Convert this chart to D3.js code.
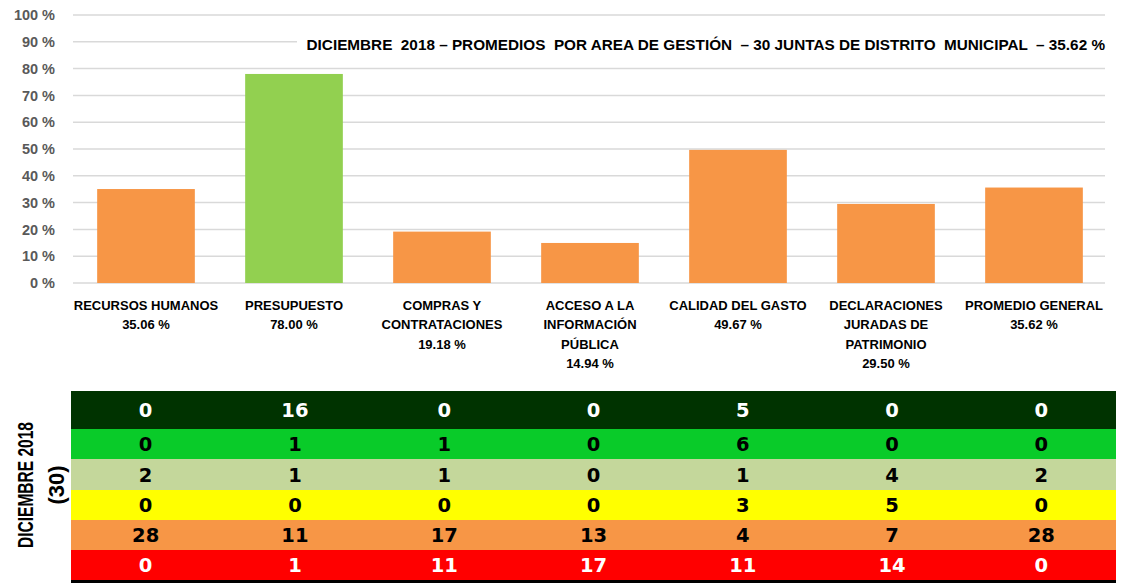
<!DOCTYPE html>
<html>
<head>
<meta charset="utf-8">
<script src="https://cdn.jsdelivr.net/npm/d3@7"></script>
<style>
  html, body { margin: 0; padding: 0; background: #fff; }
  svg { display: block; }
</style>
</head>
<body>
<svg id="chart" width="1123" height="583"></svg>
<script>
// Areas of management (line-broken names) and their average score
const categories = [
  ["RECURSOS HUMANOS"],
  ["PRESUPUESTO"],
  ["COMPRAS Y", "CONTRATACIONES"],
  ["ACCESO A LA", "INFORMACIÓN", "PÚBLICA"],
  ["CALIDAD DEL GASTO"],
  ["DECLARACIONES", "JURADAS DE", "PATRIMONIO"],
  ["PROMEDIO GENERAL"]
];
const values = [35.06, 78.00, 19.18, 14.94, 49.67, 29.50, 35.62];
const yTicks = [0, 10, 20, 30, 40, 50, 60, 70, 80, 90, 100];
const title = "DICIEMBRE  2018 – PROMEDIOS  POR AREA DE GESTIÓN  – 30 JUNTAS DE DISTRITO  MUNICIPAL  – 35.62 %";

// Number of districts per rating band, per area (rows: best to worst)
const bandCounts = [
  [0, 16, 0, 0, 5, 0, 0],
  [0, 1, 1, 0, 6, 0, 0],
  [2, 1, 1, 0, 1, 4, 2],
  [0, 0, 0, 0, 3, 5, 0],
  [28, 11, 17, 13, 4, 7, 28],
  [0, 1, 11, 17, 11, 14, 0]
];
const bandFill = ["#003300", "#09CB29", "#C4D79B", "#FFFF00", "#F79646", "#FF0000"];
const bandText = ["#ffffff", "#000000", "#000000", "#000000", "#000000", "#ffffff"];
const sideLabel = ["DICIEMBRE 2018", "(30)"];

const svg = d3.select("#chart");
const fmt = d3.format(".2f");

// ---- bar chart ----
const x = d3.scaleBand().domain(d3.range(values.length)).range([72, 1108]).paddingInner(0.34).paddingOuter(0.17);
const y = d3.scaleLinear().domain([0, 100]).range([283, 15]);

const grid = svg.append("g");
grid.selectAll("line").data(yTicks).join("line")
  .attr("x1", 73).attr("x2", 1105)
  .attr("y1", d => y(d)).attr("y2", d => y(d))
  .attr("stroke", "#D9D9D9").attr("stroke-width", 1.5);

const yAxis = d3.axisLeft(y).tickValues(yTicks).tickSize(0).tickPadding(0).tickFormat(d => d + " %");
svg.append("g").attr("transform", "translate(55,0)").call(yAxis)
  .call(g => g.select(".domain").remove())
  .selectAll("text")
  .attr("font-family", "Liberation Sans, Arial, sans-serif")
  .attr("font-weight", "bold").attr("font-size", 14.5).attr("fill", "#595959");

// title with white backing over the gridline, right-aligned at the plot edge
const titleG = svg.append("g");
titleG.append("rect").attr("x", 297).attr("y", 33).attr("width", 812).attr("height", 22).attr("fill", "#fff");
titleG.append("text").attr("x", 1105).attr("y", 50)
  .attr("text-anchor", "end")
  .attr("font-family", "Liberation Sans, Arial, sans-serif")
  .attr("font-weight", "bold").attr("font-size", 15.3).attr("fill", "#000")
  .style("white-space", "pre").text(title);

svg.append("g").selectAll("rect").data(values).join("rect")
  .attr("x", (d, i) => x(i)).attr("width", x.bandwidth())
  .attr("y", d => y(d)).attr("height", d => y(0) - y(d))
  .attr("fill", (d, i) => i === 1 ? "#92D050" : "#F79646");

// category labels with value
const lab = svg.append("g")
  .attr("font-family", "Liberation Sans, Arial, sans-serif")
  .attr("font-weight", "bold").attr("font-size", 13).attr("fill", "#000")
  .attr("text-anchor", "middle");
categories.forEach((lines, i) => {
  const cx = x(i) + x.bandwidth() / 2;
  const all = lines.concat([fmt(values[i]) + " %"]);
  all.forEach((t, j) => {
    lab.append("text").attr("x", cx).attr("y", 310 + j * 19.3).text(t);
  });
});

// ---- rating band table ----
const col = d3.scaleBand().domain(d3.range(values.length)).range([71, 1116]);
const rowTops = [391, 429, 459, 490, 520, 550];
const rowBottoms = [429, 459, 490, 520, 550, 580];

const tbl = svg.append("g");
bandCounts.forEach((row, r) => {
  tbl.append("rect").attr("x", 71).attr("y", rowTops[r])
    .attr("width", 1116 - 71).attr("height", rowBottoms[r] - rowTops[r])
    .attr("fill", bandFill[r]);
  tbl.selectAll(null).data(row).join("text")
    .attr("x", (d, i) => col(i) + col.bandwidth() / 2)
    .attr("y", (rowTops[r] + rowBottoms[r]) / 2 + 7)
    .attr("text-anchor", "middle")
    .attr("font-family", "DejaVu Sans, Verdana, sans-serif")
    .attr("font-weight", "bold").attr("font-size", 19.5)
    .attr("fill", bandText[r])
    .text(d => d);
});
tbl.append("rect").attr("x", 71).attr("y", 580).attr("width", 1116 - 71).attr("height", 3).attr("fill", "#000");

// rotated side label
const side = svg.append("g").attr("font-family", "Liberation Sans Narrow, Liberation Sans, Arial, sans-serif")
  .attr("font-weight", "bold").attr("fill", "#000").attr("text-anchor", "middle");
side.append("text").attr("transform", "translate(33,485) rotate(-90)")
  .attr("font-size", 22).attr("textLength", 126).attr("lengthAdjust", "spacingAndGlyphs")
  .text(sideLabel[0]);
side.append("text").attr("transform", "translate(64,485) rotate(-90)")
  .attr("font-size", 22).text(sideLabel[1]);
</script>
</body>
</html>
